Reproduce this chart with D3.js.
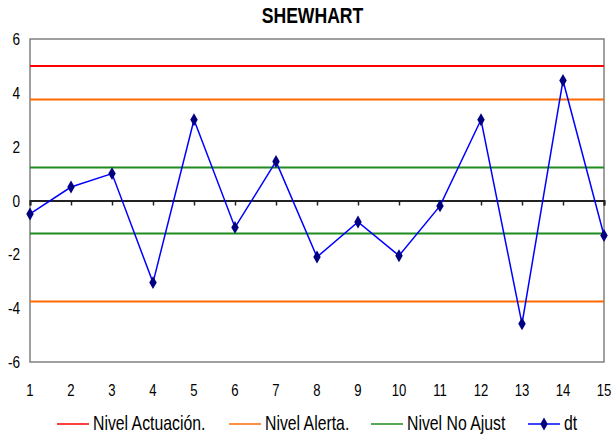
<!DOCTYPE html>
<html>
<head>
<meta charset="utf-8">
<script src="https://cdn.jsdelivr.net/npm/d3@7"></script>
<style>
  body { margin: 0; background: #fff; }
  text { font-family: "Liberation Sans", Arial, sans-serif; }
</style>
</head>
<body>
<div id="chart"></div>
<script>
// Data
var categories = [1, 2, 3, 4, 5, 6, 7, 8, 9, 10, 11, 12, 13, 14, 15];
var dt = [-0.5, 0.5, 1.0, -3.05, 3.0, -1.0, 1.45, -2.1, -0.8, -2.05, -0.2, 3.0, -4.58, 4.46, -1.3];
var nivelActuacion = 5;
var nivelAlerta = 3.75;
var nivelNoAjust = 1.23;
var yTicks = [-6, -4, -2, 0, 2, 4, 6];
var legendNames = ['Nivel Actuación.', 'Nivel Alerta.', 'Nivel No Ajust', 'dt'];

const width = 614;
const height = 436;
const plot = { left: 30, right: 604, top: 39, bottom: 362 };

var svg = d3.select('#chart')
  .append('svg')
  .attr('width', width)
  .attr('height', height);

// Scales
var scaleX = d3.scaleLinear()
  .domain([d3.min(categories), d3.max(categories)])
  .range([plot.left, plot.right]);

var scaleY = d3.scaleLinear()
  .domain([-6, 6])
  .range([plot.bottom, plot.top]);

// text squeezed horizontally, like the original
function squeezed(x, y, txt, size, anchor, sx) {
  return svg.append('text')
    .attr('transform', 'translate(' + x + ',' + y + ') scale(' + sx + ',1)')
    .attr('text-anchor', anchor)
    .attr('font-size', size)
    .attr('fill', '#000')
    .text(txt);
}

// Title
squeezed(312.5, 23, 'SHEWHART', 22, 'middle', 0.8).attr('font-weight', 'bold');

// Plot border
svg.append('rect')
  .attr('x', plot.left)
  .attr('y', plot.top)
  .attr('width', plot.right - plot.left)
  .attr('height', plot.bottom - plot.top)
  .attr('fill', 'none')
  .attr('stroke', '#808080')
  .attr('stroke-width', 1.5);

// Y labels
yTicks.forEach(function (t) {
  squeezed(plot.left - 10, scaleY(t) + 6, t, 17, 'end', 0.8);
});

// X labels
categories.forEach(function (c) {
  squeezed(scaleX(c), 396, c, 16, 'middle', 0.82);
});

// Control limits
var limits = [
  { v: nivelActuacion, color: '#ff0000' },
  { v: nivelAlerta, color: '#ff6a00' },
  { v: -nivelAlerta, color: '#ff6a00' },
  { v: nivelNoAjust, color: '#1e8c1e' },
  { v: -nivelNoAjust, color: '#1e8c1e' }
];

limits.forEach(function (d) {
  svg.append('line')
    .attr('x1', plot.left)
    .attr('x2', plot.right)
    .attr('y1', scaleY(d.v))
    .attr('y2', scaleY(d.v))
    .attr('stroke', d.color)
    .attr('stroke-width', 2);
});

// Zero axis with ticks
var axisX = d3.axisBottom(scaleX)
  .tickValues(categories)
  .tickSize(5)
  .tickFormat('');

var zeroAxis = svg.append('g')
  .attr('transform', 'translate(0,' + scaleY(0) + ')')
  .call(axisX);
zeroAxis.select('.domain').attr('stroke', '#222').attr('stroke-width', 2);
zeroAxis.selectAll('.tick line').attr('stroke', '#222').attr('stroke-width', 1.5);

// dt line
var lineFunc = d3.line()
  .x(function (d, i) { return scaleX(categories[i]); })
  .y(function (d) { return scaleY(d); });

svg.append('path')
  .attr('d', lineFunc(dt))
  .attr('stroke', '#0000ff')
  .attr('stroke-width', 1.5)
  .attr('fill', 'none');

var diamond = d3.symbol().type(d3.symbolDiamond).size(48);

svg.selectAll('.pt')
  .data(dt)
  .enter()
  .append('path')
  .attr('class', 'pt')
  .attr('d', diamond)
  .attr('transform', function (d, i) {
    return 'translate(' + scaleX(categories[i]) + ',' + scaleY(d) + ')';
  })
  .attr('fill', '#000080');

// Legend
var legendColors = ['#ff0000', '#ff6a00', '#1e8c1e', '#0000ff'];
var legendX = [57, 229, 371, 528];
legendNames.forEach(function (name, i) {
  svg.append('line')
    .attr('x1', legendX[i])
    .attr('x2', legendX[i] + 32)
    .attr('y1', 424)
    .attr('y2', 424)
    .attr('stroke', legendColors[i])
    .attr('stroke-width', 1.5);
  if (i === 3) {
    svg.append('path')
      .attr('d', diamond)
      .attr('transform', 'translate(' + (legendX[i] + 16) + ',424)')
      .attr('fill', '#000080');
  }
  squeezed(legendX[i] + 36, 430, name, 20, 'start', 0.79);
});
</script>
</body>
</html>
